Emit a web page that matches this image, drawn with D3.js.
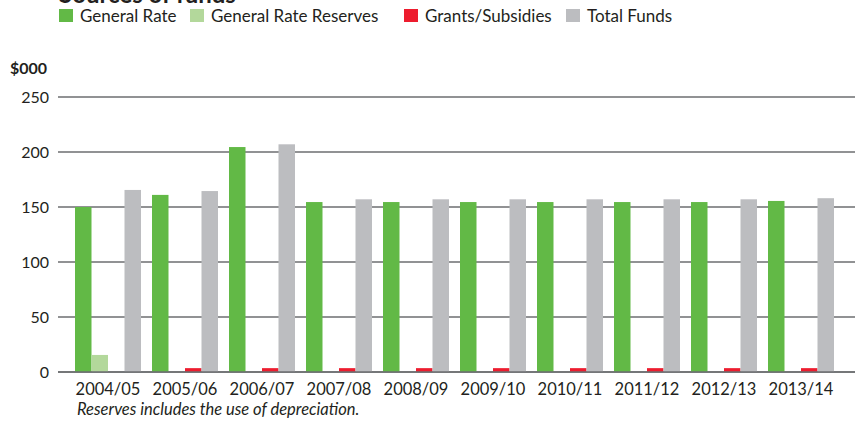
<!DOCTYPE html>
<html><head><meta charset="utf-8">
<script src="https://cdn.jsdelivr.net/npm/d3@7"></script>
<style>body{margin:0;background:#fff}svg{display:block}text{font-family:Lato,"Open Sans",sans-serif;fill:#231f20}</style>
</head><body><svg id="c" width="863" height="423"></svg>
<script>
const categories=["2004/05","2005/06","2006/07","2007/08","2008/09","2009/10","2010/11","2011/12","2012/13","2013/14"];
const seriesNames=["General Rate","General Rate Reserves","Grants/Subsidies","Total Funds"];
const generalRate=[150,161,204.5,154.5,154.5,154.5,154.5,154.5,154.5,155.5];
const generalRateReserves=[15.5,0,0,0,0,0,0,0,0,0];
const grantsSubsidies=[0,3.5,3.5,3.5,3.5,3.5,3.5,3.5,3.5,3.5];
const totalFunds=[165.5,164.5,207,157,157,157,157,157,157,158];
const yTicks=[0,50,100,150,200,250];
const colors=["#62b946","#b3d89b","#ed1c2e","#bcbdc0"];
const series=[generalRate,generalRateReserves,grantsSubsidies,totalFunds];

const svg=d3.select("#c");
const y=d3.scaleLinear().domain([0,250]).range([372,97]);
const x=d3.scaleBand().domain(categories).range([69.5,839.5]).paddingInner(1/7).paddingOuter(1/14);
const xs=d3.scaleBand().domain(seriesNames).range([0,x.bandwidth()]);

// title (mostly cut off at the top edge, as in the original)
svg.append("text").attr("x",59).attr("y",3).style("font-size","24px").style("font-weight","bold").text("Sources of funds");

// legend
const legX=[59,190,404,566];
seriesNames.forEach((n,i)=>{
  svg.append("rect").attr("x",legX[i]).attr("y",9).attr("width",14).attr("height",13).attr("fill",colors[i]);
  svg.append("text").attr("x",legX[i]+21).attr("y",22).style("font-size","17px").text(n);
});

svg.append("text").attr("x",10).attr("y",74).style("font-size","16px").style("font-weight","bold").text("$000");

// y axis labels
const yAxis=d3.axisLeft(y).tickValues(yTicks).tickSize(0).tickPadding(9);
const ga=svg.append("g").attr("transform","translate(58,0)").call(yAxis);
ga.select(".domain").remove();
ga.selectAll("text").style("font-size","16px").attr("fill","#231f20").style("font-family","Lato,sans-serif");
// grid
svg.append("g").selectAll("line").data(yTicks).join("line")
  .attr("x1",58).attr("x2",855).attr("y1",d=>y(d)).attr("y2",d=>y(d))
  .attr("stroke","#6d6e71").attr("stroke-width",1.5);

// bars
const g=svg.append("g");
series.forEach((vals,si)=>{
  g.selectAll(null).data(vals).join("rect")
    .attr("x",(d,i)=>x(categories[i])+xs(seriesNames[si]))
    .attr("width",xs.bandwidth())
    .attr("y",d=>y(d)).attr("height",d=>y(0)-y(d))
    .attr("fill",colors[si]);
});
svg.append("line").attr("x1",58).attr("x2",855).attr("y1",y(0)).attr("y2",y(0)).attr("stroke","#6d6e71").attr("stroke-width",1.5);

// x axis labels
const xAxis=d3.axisBottom(x).tickSize(0).tickPadding(11);
const gx=svg.append("g").attr("transform","translate(0,"+y(0)+")").call(xAxis);
gx.select(".domain").remove();
gx.selectAll("text").style("font-size","16.5px").attr("fill","#231f20").style("font-family","Lato,sans-serif");

svg.append("text").attr("x",77).attr("y",415).style("font-size","16.5px").style("font-style","italic").text("Reserves includes the use of depreciation.");
</script></body></html>
